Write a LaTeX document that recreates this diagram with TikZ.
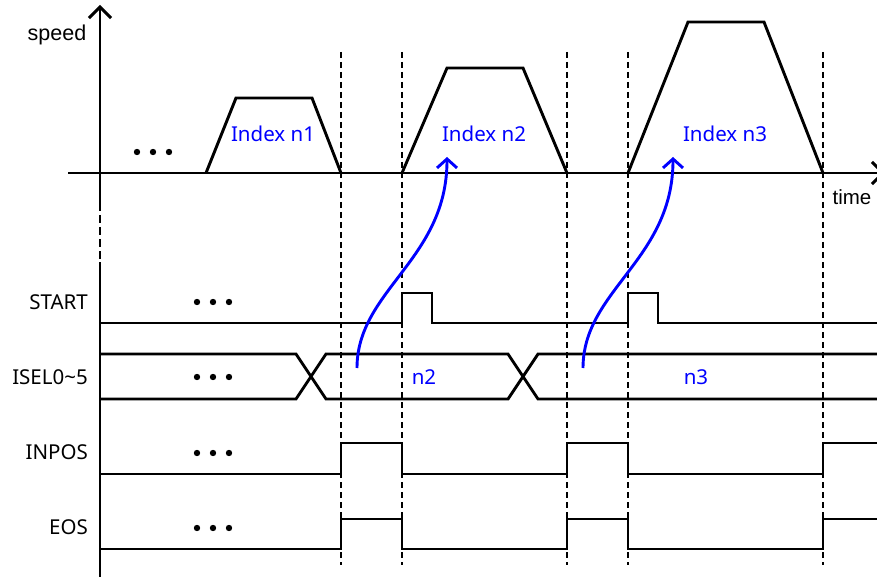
\documentclass[tikz,border=0pt]{standalone}
\usepackage{fontspec}
\setmainfont{Noto Sans}
\newfontfamily\arialf{Liberation Sans}
\usetikzlibrary{arrows.meta}
\begin{document}
\begin{tikzpicture}[x=1pt,y=-1pt,
  sig/.style={line width=2.9pt, line join=miter},
  axis/.style={line width=2.9pt},
  dline/.style={line width=1.3pt, dash pattern=on 6pt off 4pt},
  lbl/.style={font=\fontsize{20.5}{24}\selectfont, inner sep=0pt, anchor=east},
  idx/.style={font=\fontsize{20.5}{24}\selectfont, text=blue, inner sep=0pt},
  axlbl/.style={font=\arialf\fontsize{20.5}{24}\selectfont, inner sep=0pt},
  flow/.style={blue, line width=2.9pt, -{Straight Barb[length=9pt,width=20pt]}},
  dotmark/.style={fill=black},
]
\useasboundingbox (0,0) rectangle (877,577);

% dashed time markers
\foreach \x in {341,402,567,628,823}
  \draw[dline] (\x,52) -- (\x,565);

% speed axes
\draw[axis, -{Straight Barb[length=11pt,width=22pt]}] (100,203) -- (100,5);
\draw[line width=2pt, dash pattern=on 8pt off 4pt] (100,203) -- (100,262);
\draw[axis] (100,262) -- (100,577);
\draw[axis, -{Straight Barb[length=11pt,width=22pt]}] (68,173) -- (885,173);
\node[axlbl, font=\arialf\fontsize{21.5}{24}\selectfont] (speed) at (57,35) {speed};
\node[axlbl] (time) at (852,197) {time};

% trapezoids
\draw[sig] (206,173) -- (236,98) -- (312,98) -- (341,173);
\draw[sig] (402,173) -- (447,68) -- (523,68) -- (567,173);
\draw[sig] (628,173) -- (688,22) -- (764,22) -- (823,173);
\node[idx] (i1) at (273,134) {Index n1};
\node[idx] (i2) at (484,134) {Index n2};
\node[idx] (i3) at (725,134) {Index n3};

% dots
\foreach \x in {137,153,169} \fill[dotmark] (\x,152) circle (3.2);
\foreach \y in {302,377,453,528}
  \foreach \x in {197,213,229} \fill[dotmark] (\x,\y) circle (3.2);

% signal labels
\node[lbl] (lstart) at (88,302) {START};
\node[lbl] (lisel) at (88,377) {ISEL0\textasciitilde 5};
\node[lbl] (linpos) at (88,452) {INPOS};
\node[lbl] (leos) at (88,527) {EOS};

% START
\draw[sig] (100,323) -- (402,323) -- (402,293) -- (432,293) -- (432,323)
  -- (628,323) -- (628,293) -- (658,293) -- (658,323) -- (877,323);
% ISEL
\draw[sig] (100,354) -- (296,354) -- (326,399) -- (508,399) -- (538,354) -- (877,354);
\draw[sig] (100,399) -- (296,399) -- (326,354) -- (508,354) -- (538,399) -- (877,399);
\node[idx] (n2) at (424,377) {n2};
\node[idx] (n3) at (696,377) {n3};
% INPOS
\draw[sig] (100,474) -- (341,474) -- (341,443) -- (402,443) -- (402,474)
  -- (567,474) -- (567,443) -- (628,443) -- (628,474) -- (823,474) -- (823,443) -- (877,443);
% EOS
\draw[sig] (100,549) -- (341,549) -- (341,519) -- (402,519) -- (402,549)
  -- (567,549) -- (567,519) -- (628,519) -- (628,549) -- (823,549) -- (823,519) -- (877,519);

% blue flow arrows
\coordinate (s2) at (357,368);
\coordinate (t2) at (447,157);
\coordinate (s3) at (583,368);
\coordinate (t3) at (673,157);
\draw[flow] (s2) .. controls (357,290) and (447,260) .. (t2);
\draw[flow] (s3) .. controls (583,290) and (673,260) .. (t3);
\end{tikzpicture}
\end{document}
